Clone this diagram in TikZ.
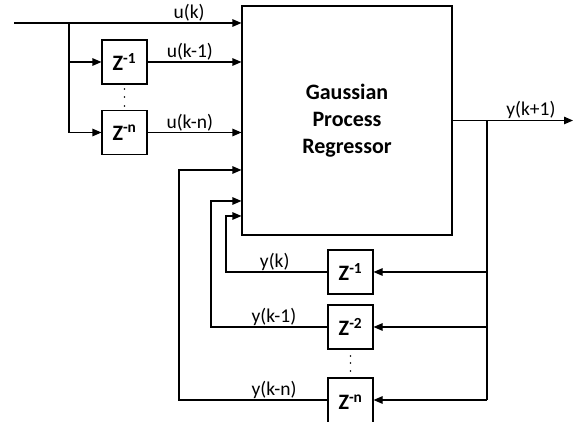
\documentclass[tikz,border=0pt]{standalone}
\usepackage{fontspec}
\setmainfont{Carlito}
\usetikzlibrary{arrows.meta,positioning}
\tikzset{
  sig/.style={-{Triangle[length=9pt,width=7.5pt]}},
  delay box/.style={draw, minimum width=45pt, minimum height=44pt, inner sep=0pt,
    font=\fontsize{22}{24}\selectfont\bfseries},
  gpr box/.style={draw, minimum width=210pt, minimum height=229pt, align=center,
    font=\fontsize{22}{27}\selectfont\bfseries},
  sig label/.style={font=\fontsize{19.5}{22}\selectfont, inner sep=1pt},
}

\begin{document}
\begin{tikzpicture}[x=1pt, y=-1pt, line width=1.1pt]
    \useasboundingbox (0,0) rectangle (582,422);
    \clip (0,0) rectangle (582,422);
    % regressor and delay blocks
    \node[gpr box] (gpr) at (347,120.5) {Gaussian\\Process\\Regressor};
    \node[delay box] (zu1) at (124.5,62) {Z\textsuperscript{-1}};
    \node[delay box] (zun) at (124.5,132.5) {Z\textsuperscript{-n}};
    \node[delay box] (zy1) at (350.5,272) {Z\textsuperscript{-1}};
    \node[delay box] (zy2) at (350.5,327) {Z\textsuperscript{-2}};
    \node[delay box, minimum height=48pt] (zyn) at (350.5,402) {Z\textsuperscript{-n}};
    \foreach \y in {89,97,106} \fill (124.5,\y) circle (0.9pt);
    \foreach \y in {356,363,371} \fill (350.5,\y) circle (0.9pt);
    % branch and bend points
    \coordinate (in) at (14,23);
    \coordinate (ubr) at (69,23);
    \coordinate (out) at (573,120.5);
    \coordinate (ybr) at (487,120.5);
    \coordinate (fb1) at (226,216);
    \coordinate (fb2) at (211,201);
    \coordinate (fbn) at (179,170);
    \coordinate (yn) at (487,400);
    % inputs
    \draw[sig] (in) -- (in -| gpr.west) node[sig label, pos=.77, above] {u(k)};
    \draw[sig] (ubr) |- (zun.west);
    \draw[sig] (ubr |- zu1.west) -- (zu1.west);
    \draw[sig] (zu1.east) -- (zu1.east -| gpr.west) node[sig label, pos=.45, above] {u(k-1)};
    \draw[sig] (zun.east) -- (zun.east -| gpr.west) node[sig label, pos=.45, above] {u(k-n)};
    % output and feedback
    \draw[sig] (gpr.east) -- (out) node[sig label, pos=.65, above] {y(k+1)};
    \draw (ybr) -- (yn);
    \draw[sig] (ybr |- zy1.east) -- (zy1.east);
    \draw[sig] (ybr |- zy2.east) -- (zy2.east);
    \draw[sig] (yn) -- (yn -| zyn.east);
    \draw[sig] (zy1.west) -| (fb1) node[sig label, pos=.26, above] {y(k)} -- (fb1 -| gpr.west);
    \draw[sig] (zy2.west) -| (fb2) node[sig label, pos=.23, above] {y(k-1)} -- (fb2 -| gpr.west);
    \draw[sig] (zyn.west |- yn) -| (fbn) node[sig label, pos=.18, above] {y(k-n)} -- (fbn -| gpr.west);
\end{tikzpicture}
\end{document}
